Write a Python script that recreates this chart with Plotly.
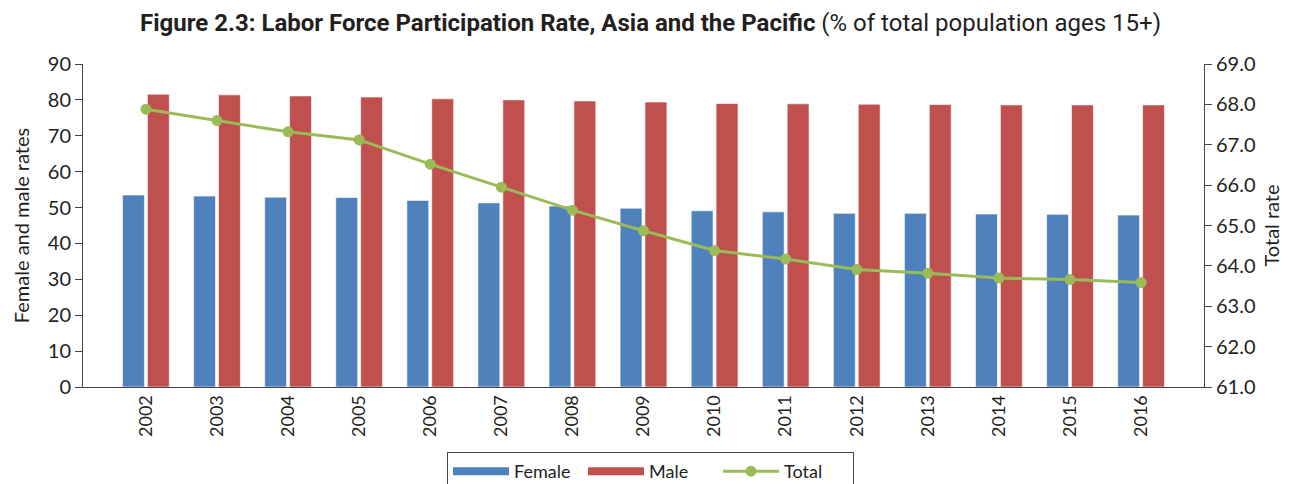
import plotly.graph_objects as go

years = [str(y) for y in range(2002, 2017)]
female = [53.5, 53.2, 52.9, 52.8, 52.0, 51.3, 50.4, 49.8, 49.1, 48.8, 48.4, 48.4, 48.2, 48.1, 47.9]
male = [81.6, 81.4, 81.1, 80.8, 80.3, 80.0, 79.7, 79.4, 79.0, 78.9, 78.8, 78.7, 78.6, 78.6, 78.6]
total = [67.88, 67.6, 67.32, 67.12, 66.52, 65.95, 65.38, 64.87, 64.38, 64.17, 63.91, 63.82, 63.70, 63.66, 63.59]

C_F = "#4F81BD"
C_M = "#C0504D"
C_T = "#9BBB59"
FONT = "Lato"

# page has an 8px body margin, so the figure is sized to fit the 1293x484 window
W, H = 1285, 476

fig = go.Figure()
fig.add_trace(go.Bar(x=years, y=female, name="Female", marker=dict(color=C_F, line=dict(color="rgba(255,255,255,0.6)", width=1)), showlegend=False))
fig.add_trace(go.Bar(x=years, y=male, name="Male", marker=dict(color=C_M, line=dict(color="rgba(255,255,255,0.6)", width=1)), showlegend=False))
fig.add_trace(go.Scatter(x=years, y=total, name="Total", yaxis="y2", mode="lines+markers",
                         line=dict(color=C_T, width=3), marker=dict(color=C_T, size=11), showlegend=False))
# legend entries
fig.add_trace(go.Scatter(x=[None], y=[None], name="Female", mode="lines", line=dict(color=C_F, width=8)))
fig.add_trace(go.Scatter(x=[None], y=[None], name="Male", mode="lines", line=dict(color=C_M, width=8)))
fig.add_trace(go.Scatter(x=[None], y=[None], name="Total", mode="lines+markers", yaxis="y2",
                         line=dict(color=C_T, width=3), marker=dict(color=C_T, size=11)))

fig.update_layout(
    width=W, height=H,
    margin=dict(l=75, r=89, t=56, b=97, autoexpand=False),
    paper_bgcolor="white", plot_bgcolor="white",
    barmode="group", bargap=0.30, bargroupgap=0.12,
    font=dict(family=FONT, color="#231F20", size=17),
    title=dict(text="<b>Figure 2.3: Labor Force Participation Rate, Asia and the Pacific</b> (% of total population ages 15+)",
               x=0.5, xanchor="center", xref="container", y=1 - 15/H, yanchor="middle", yref="container",
               font=dict(family="Roboto", size=24, color="#231F20")),
    xaxis=dict(type="category", showline=True, linecolor="#444", linewidth=1, automargin=False,
               ticks="", tickangle=-90, tickfont=dict(size=18), showgrid=False),
    yaxis=dict(range=[0, 90], dtick=10, showline=True, linecolor="#444", linewidth=1, automargin=False,
               ticks="outside", ticklen=7, tickcolor="#444", showgrid=False, zeroline=False,
               tickfont=dict(size=20),
               title=dict(text="Female and male rates", font=dict(size=20), standoff=12)),
    yaxis2=dict(range=[61, 69], dtick=1, tickformat=".1f", overlaying="y", side="right",
                showline=True, linecolor="#444", linewidth=1, ticks="outside", ticklen=7, automargin=False,
                tickcolor="#444", showgrid=False, zeroline=False, tickfont=dict(size=20),
                title=dict(text="Total rate", font=dict(size=20), standoff=10)),
    legend=dict(orientation="h", x=0.5, xanchor="center", y=32 / H, yanchor="top",
                yref="container", xref="container",
                bordercolor="#444", borderwidth=1, font=dict(size=18), itemwidth=56,
                entrywidth=64, traceorder="normal"),
)

fig.write_html("out.html")
